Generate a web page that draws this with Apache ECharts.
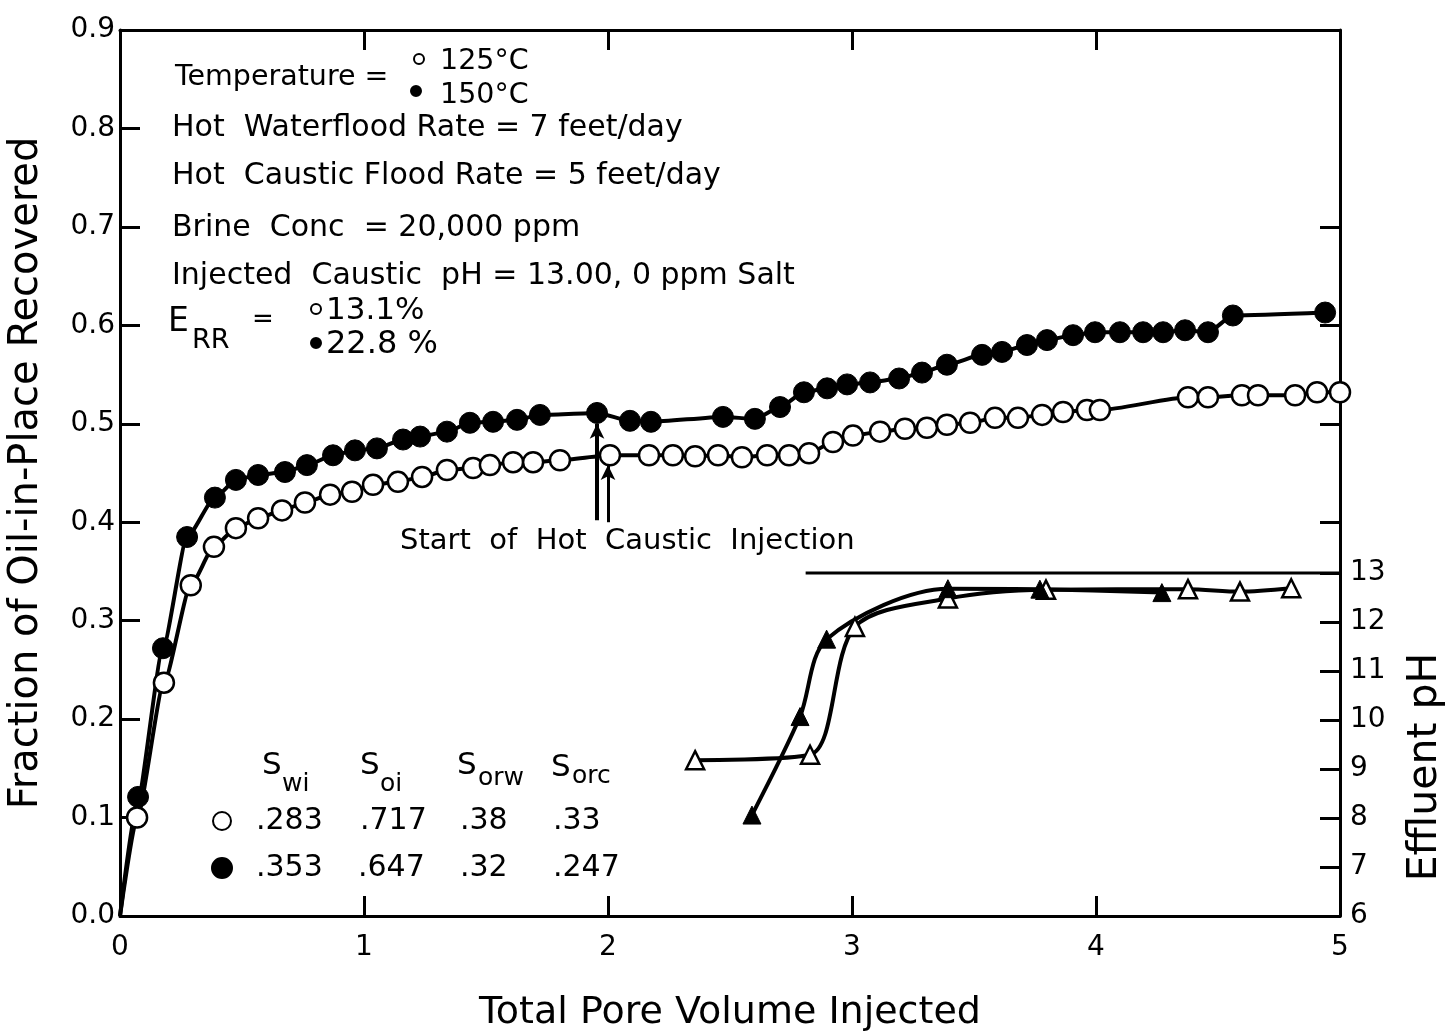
<!DOCTYPE html>
<html>
<head>
<meta charset="utf-8">
<script src="https://cdn.jsdelivr.net/npm/echarts@6/dist/echarts.min.js"></script>
<style>html,body{margin:0;padding:0;background:#fff;}#chart{width:1448px;height:1034px;}</style>
</head>
<body>
<div id="chart"></div>
<script>
// ---------- DATA ----------
const xTickValues = [0, 1, 2, 3, 4, 5];
const yTickValues = [0, 0.1, 0.2, 0.3, 0.4, 0.5, 0.6, 0.7, 0.8, 0.9];
const phTickValues = [6, 7, 8, 9, 10, 11, 12, 13];
const rightRecTicks = [0.4, 0.5, 0.6, 0.7];

// 125 °C (open circles)
const pv125 = [0, 0.07, 0.18, 0.29, 0.385, 0.475, 0.566, 0.664, 0.758, 0.861, 0.951, 1.037, 1.139, 1.238, 1.34, 1.447, 1.516, 1.611, 1.693, 1.803, 2.008, 2.168, 2.266, 2.357, 2.451, 2.549, 2.652, 2.742, 2.824, 2.922, 3.004, 3.115, 3.217, 3.307, 3.389, 3.484, 3.586, 3.68, 3.779, 3.865, 3.963, 4.016, 4.377, 4.459, 4.598, 4.664, 4.816, 4.906, 5.0];
const rec125 = [0, 0.1, 0.237, 0.336, 0.375, 0.394, 0.404, 0.412, 0.42, 0.428, 0.431, 0.438, 0.441, 0.446, 0.453, 0.455, 0.458, 0.461, 0.461, 0.463, 0.468, 0.468, 0.468, 0.467, 0.468, 0.466, 0.468, 0.468, 0.47, 0.4815, 0.488, 0.492, 0.495, 0.496, 0.499, 0.501, 0.506, 0.506, 0.509, 0.512, 0.514, 0.514, 0.527, 0.527, 0.529, 0.529, 0.529, 0.532, 0.532];

// 150 °C (filled circles)
const pv150 = [0, 0.074, 0.176, 0.275, 0.389, 0.475, 0.566, 0.676, 0.766, 0.873, 0.963, 1.053, 1.16, 1.23, 1.34, 1.434, 1.529, 1.627, 1.721, 1.955, 2.09, 2.176, 2.471, 2.602, 2.705, 2.803, 2.898, 2.98, 3.074, 3.193, 3.287, 3.389, 3.533, 3.615, 3.717, 3.799, 3.906, 3.996, 4.098, 4.193, 4.275, 4.365, 4.459, 4.561, 4.939];
const rec150 = [0, 0.121, 0.272, 0.385, 0.425, 0.443, 0.448, 0.451, 0.458, 0.468, 0.473, 0.475, 0.484, 0.487, 0.492, 0.501, 0.502, 0.504, 0.509, 0.511, 0.503, 0.502, 0.507, 0.505, 0.517, 0.532, 0.536, 0.54, 0.542, 0.546, 0.552, 0.56, 0.57, 0.573, 0.58, 0.585, 0.59, 0.593, 0.593, 0.593, 0.593, 0.595, 0.593, 0.61, 0.613];

// Effluent pH
const pvPH125 = [2.357, 2.828, 3.012, 3.393, 3.795, 4.377, 4.59, 4.8];
const ph125 = [9.18, 9.29, 11.9, 12.48, 12.66, 12.67, 12.62, 12.69];
const pvPH150 = [2.59, 2.787, 2.896, 3.393, 3.77, 4.27];
const ph150 = [8.06, 10.07, 11.65, 12.68, 12.67, 12.6];

// Injected caustic pH reference line
const injPV = [2.81, 5.0];
const injPH = [13, 13];

// Start of hot caustic injection arrows: [pv, from, to]
const arrow150 = [1.955, 0.402, 0.5];
const arrow125 = [2.0, 0.4, 0.458];

// ---------- CHART ----------
const FONT = 'DejaVu Sans';
const zip = (a, b) => a.map((v, i) => [v, b[i]]);
const chart = echarts.init(document.getElementById('chart'), null, {renderer: 'canvas'});

const axisLine = {show: true, onZero: false, lineStyle: {color: '#000', width: 3}};
const tickIn = {show: true, inside: true, length: 20, lineStyle: {color: '#000', width: 3}};

function recData(xs, ys) {
  return xs.map((x, i) => i === 0 ? {value: [x, ys[i]], symbolSize: 0} : [x, ys[i]]);
}

const T = (text, x, y, size, extra) => ({
  type: 'text', x: x, y: y,
  style: Object.assign({text: text, font: size + 'px "' + FONT + '"', fill: '#000', textVerticalAlign: 'middle'}, extra || {})
});
const C = (cx, cy, r, filled) => ({
  type: 'circle', shape: {cx: cx, cy: cy, r: r},
  style: {fill: filled ? '#000' : '#fff', stroke: '#000', lineWidth: 2}
});

const graphics = [
  T('Temperature =', 175, 78, 28.5),
  C(419, 59, 5, false), T('125°C', 440, 62, 28.5),
  C(416, 91, 5, true), T('150°C', 440, 96, 28.5),
  T('Hot  Waterflood Rate = 7 feet/day', 172, 128, 30),
  T('Hot  Caustic Flood Rate = 5 feet/day', 172, 176, 30),
  T('Brine  Conc  = 20,000 ppm', 172, 228, 30),
  T('Injected  Caustic  pH = 13.00, 0 ppm Salt', 172, 276, 30),
  T('E', 168, 322, 33), T('RR', 192, 341, 27), T('=', 252, 320, 26),
  C(316, 309, 5, false), T('13.1%', 326, 311, 31),
  C(316, 343, 5, true), T('22.8 %', 326, 345, 32),
  T('Start  of  Hot  Caustic  Injection', 400, 541, 29),
  // saturation table
  T('S', 262, 766, 31), T('wi', 282, 784, 25),
  T('S', 360, 766, 31), T('oi', 380, 784, 25),
  T('S', 457, 766, 31), T('orw', 478, 778, 25),
  T('S', 551, 768, 31), T('orc', 572, 776, 25),
  C(222, 821, 9, false), T('.283', 256, 821, 30), T('.717', 360, 821, 30), T('.38', 460, 821, 30), T('.33', 553, 821, 30),
  C(222, 868, 10, true), T('.353', 256, 868, 30), T('.647', 358, 868, 30), T('.32', 460, 868, 30), T('.247', 553, 868, 30),
  // right axis title
  {type: 'text', x: 1425, y: 767, rotation: Math.PI / 2,
   style: {text: 'Effluent pH', font: '41px "' + FONT + '"', fill: '#000', textAlign: 'center', textVerticalAlign: 'middle'}}
];

const option = {
  animation: false,
  backgroundColor: '#fff',
  grid: {left: 120, top: 30, right: 108, bottom: 118, show: false, containLabel: false, outerBoundsMode: 'none'},
  xAxis: [
    {type: 'value', position: 'bottom', min: 0, max: 5, interval: 1,
     axisLine: axisLine, axisTick: tickIn, splitLine: {show: false},
     axisLabel: {color: '#000', fontSize: 28, fontFamily: FONT, margin: 18},
     name: 'Total Pore Volume Injected', nameLocation: 'middle', nameGap: 78,
     nameTextStyle: {color: '#000', fontSize: 38, fontFamily: FONT}},
    {type: 'value', position: 'top', min: 0, max: 5, interval: 1,
     axisLine: axisLine, axisTick: tickIn, splitLine: {show: false}, axisLabel: {show: false}}
  ],
  yAxis: [
    {type: 'value', position: 'left', min: 0, max: 0.9, interval: 0.1,
     axisLine: axisLine, axisTick: tickIn, splitLine: {show: false},
     axisLabel: {color: '#000', fontSize: 28, fontFamily: FONT, margin: 5, formatter: v => v.toFixed(1)},
     name: 'Fraction of Oil-in-Place Recovered', nameLocation: 'middle', nameGap: 73, nameRotate: 90,
     nameTextStyle: {color: '#000', fontSize: 40, fontFamily: FONT}},
    {type: 'value', position: 'right', min: 6, max: 6 + 886 / 49,
     axisLine: axisLine, splitLine: {show: false},
     axisTick: Object.assign({}, tickIn, {customValues: phTickValues}),
     axisLabel: {color: '#000', fontSize: 28, fontFamily: FONT, margin: 10, customValues: phTickValues}},
    {type: 'value', position: 'right', min: 0, max: 0.9,
     axisLine: {show: false, onZero: false}, splitLine: {show: false},
     axisTick: Object.assign({}, tickIn, {customValues: rightRecTicks}),
     axisLabel: {show: false}}
  ],
  graphic: graphics,
  series: [
    {type: 'line', name: 'pH 125', xAxisIndex: 0, yAxisIndex: 1, data: zip(pvPH125, ph125),
     smooth: 0.3, symbol: 'triangle', symbolSize: 18,
     lineStyle: {color: '#000', width: 4}, itemStyle: {color: '#fff', borderColor: '#000', borderWidth: 2.5}, z: 3},
    {type: 'line', name: 'pH 150', xAxisIndex: 0, yAxisIndex: 1, data: zip(pvPH150, ph150),
     smooth: 0.3, symbol: 'triangle', symbolSize: 18,
     lineStyle: {color: '#000', width: 4}, itemStyle: {color: '#000', borderColor: '#000', borderWidth: 1}, z: 3},
    {type: 'line', name: 'Injected pH', xAxisIndex: 0, yAxisIndex: 1, data: zip(injPV, injPH),
     symbol: 'none', lineStyle: {color: '#000', width: 3}, z: 2},
    {type: 'line', name: '125°C', xAxisIndex: 0, yAxisIndex: 0, data: recData(pv125, rec125),
     smooth: 0.2, smoothMonotone: 'x', symbol: 'circle', symbolSize: 20,
     lineStyle: {color: '#000', width: 4}, itemStyle: {color: '#fff', borderColor: '#000', borderWidth: 2.5}, z: 4,
     markLine: {silent: true, symbol: ['none', 'arrow'], symbolSize: [11, 15], label: {show: false},
       lineStyle: {color: '#000', width: 3, type: 'solid'},
       data: [[{coord: [arrow125[0], arrow125[1]]}, {coord: [arrow125[0], arrow125[2]]}]]}},
    {type: 'line', name: '150°C', xAxisIndex: 0, yAxisIndex: 0, data: recData(pv150, rec150),
     smooth: 0.2, smoothMonotone: 'x', symbol: 'circle', symbolSize: 21,
     lineStyle: {color: '#000', width: 4}, itemStyle: {color: '#000', borderColor: '#000', borderWidth: 1}, z: 4,
     markLine: {silent: true, symbol: ['none', 'arrow'], symbolSize: [11, 15], label: {show: false},
       lineStyle: {color: '#000', width: 4, type: 'solid'},
       data: [[{coord: [arrow150[0], arrow150[1]]}, {coord: [arrow150[0], arrow150[2]]}]]}}
  ]
};
chart.setOption(option);
</script>
</body>
</html>
